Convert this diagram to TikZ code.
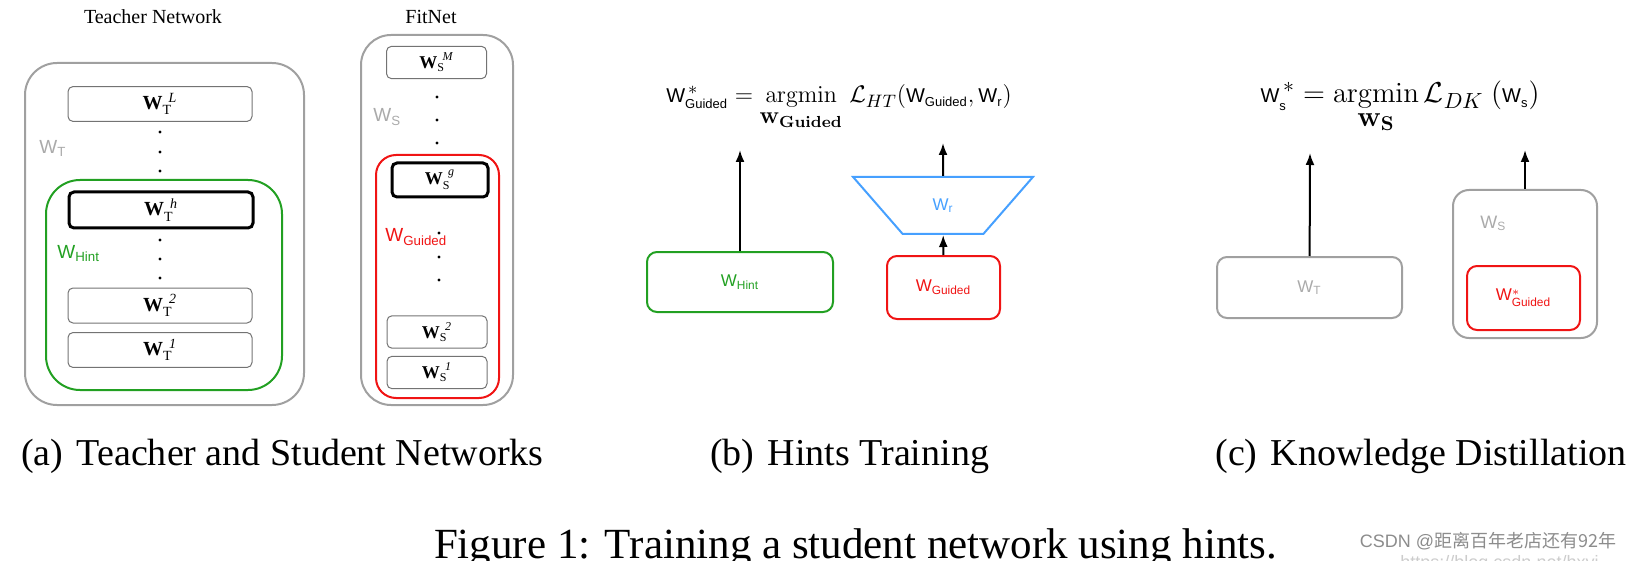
\documentclass[tikz,border=0pt]{standalone}
\usepackage{amsmath,amssymb}
\usepackage[no-math]{fontspec}
\setmainfont{Liberation Serif}
\setsansfont{Liberation Sans}
\newfontfamily\cjkfont{Noto Sans CJK SC}
\usepackage{xcolor}
\usepackage{tikz}
\usetikzlibrary{shapes.geometric}
\usetikzlibrary{positioning}
\usetikzlibrary{arrows.meta}

\definecolor{hintgreen}{RGB}{34,160,34}
\definecolor{guidedred}{RGB}{240,20,20}
\definecolor{regblue}{RGB}{70,160,255}
\definecolor{netgray}{RGB}{160,160,160}
\definecolor{labelgray}{RGB}{170,170,170}

% layer label W_T^L
\newcommand{\layerW}[2]{\textbf{W}$_{\text{#1}}^{\hspace{0.3em}\text{\itshape #2}}$}
% sans weight labels
\newcommand{\sfW}[1]{\textsf{W}\textsubscript{\sffamily #1}}
\newcommand{\sfWstar}[1]{\textsf{W}$^{*}_{\text{\sffamily #1}}$}
% sans W inside the equations
\newcommand{\eqW}[1]{\text{\fontsize{10}{11}\sffamily W}_{\text{\fontsize{6.5}{7}\sffamily #1}}}

\begin{document}
\begin{tikzpicture}[x=0.5pt,y=-0.5pt,
	netbox/.style={draw=netgray,line width=1pt,rounded corners=16pt},
	layer/.style={draw=black!55,line width=0.5pt,rounded corners=2.5pt,font=\fontsize{10}{12}\selectfont},
	hidden/.style={layer,draw=black,line width=1.5pt},
	weight/.style={line width=1pt,rounded corners=5pt},
	wlabel/.style={anchor=base west,inner sep=0pt,font=\fontsize{9.5}{11}\selectfont},
	caption/.style={anchor=base,font=\fontsize{19}{22}\selectfont},
	up/.style={-{Latex[length=6pt,width=4.5pt]},line width=1pt}]

	\useasboundingbox (0,0) rectangle (1642,561);

	% teacher network
	\node[font=\fontsize{10}{12}\selectfont,anchor=base] (tname) at (153,24) {Teacher Network};
	\node[netbox,minimum width=139.5pt,minimum height=171pt] (teacher) at (164.5,234) {};
	\node[draw=hintgreen,line width=1pt,rounded corners=17pt,minimum width=118pt,minimum height=105pt] (hint) at (164,285) {};
	\node[layer,minimum width=92pt,minimum height=17pt] (tL) at (160,104) {\layerW{T}{L}};
	\node[hidden,minimum width=92pt,minimum height=18pt] (th) at (161,210) {\layerW{T}{h}};
	\node[layer,minimum width=92pt,minimum height=17.5pt] (t2) at (160,305.5) {\layerW{T}{2}};
	\node[layer,minimum width=92pt,minimum height=17pt] (t1) at (160,350) {\layerW{T}{1}};
	\foreach \y in {132,152,171,240,259,278}
		\fill (160,\y) circle (0.8pt);
	\node[wlabel,text=labelgray] (wt) at (39,154) {\sfW{T}};
	\node[wlabel,text=hintgreen] (whint) at (57,258) {\sfW{Hint}};

	% student network (FitNet)
	\node[font=\fontsize{10}{12}\selectfont,anchor=base] (sname) at (431,24) {FitNet};
	\node[netbox,rounded corners=15pt,minimum width=76pt,minimum height=185pt] (student) at (437,220) {};
	\node[draw=guidedred,line width=1pt,rounded corners=10pt,minimum width=61.5pt,minimum height=121.5pt] (guided) at (437.5,276.5) {};
	\node[layer,font=\fontsize{9}{11}\selectfont,minimum width=50pt,minimum height=15.5pt] (sM) at (436.5,62.5) {\layerW{S}{M}};
	\node[hidden,font=\fontsize{9}{11}\selectfont,minimum width=48pt,minimum height=17pt] (sg) at (440,180) {\layerW{S}{g}};
	\node[layer,font=\fontsize{9}{11}\selectfont,minimum width=50pt,minimum height=16pt] (s2) at (437,332) {\layerW{S}{2}};
	\node[layer,font=\fontsize{9}{11}\selectfont,minimum width=50pt,minimum height=15.5pt] (s1) at (437,372.5) {\layerW{S}{1}};
	\foreach \y in {97,120,143}
		\fill (437,\y) circle (0.8pt);
	\foreach \y in {233,257,280}
		\fill (439,\y) circle (0.8pt);
	\node[wlabel,text=labelgray] (ws) at (373,122) {\sfW{S}};
	\node[wlabel,text=guidedred] (wguided) at (385,242) {\sfW{Guided}};

	% hints training
	\node[anchor=base,font=\fontsize{13.2}{15}\selectfont] (eqht) at (839,103)
		{$\eqW{Guided}^{\,*}= \underset{\text{\fontsize{12}{13}\selectfont$\mathbf{w}_{\mathbf{Guided}}$}}{\mathrm{argmin}}\ \mathcal{L}_{HT}(\eqW{Guided},\eqW{r})$};
	\node[draw=hintgreen,weight,text=hintgreen,font=\fontsize{8.5}{10}\selectfont,minimum width=93pt,minimum height=30pt] (bhint) at (740,282) {\sfW{Hint}};
	\node[draw=guidedred,weight,text=guidedred,font=\fontsize{8.5}{10}\selectfont,minimum width=56.5pt,minimum height=31.5pt] (bguided) at (943.5,287.5) {\sfW{Guided}};
	\node[trapezium,draw=regblue,line width=1pt,shape border rotate=180,trapezium stretches=true,
		trapezium left angle=52,trapezium right angle=52,minimum width=90pt,minimum height=28.5pt,
		text=regblue,font=\fontsize{8.5}{10}\selectfont] (reg) at (943,205.5) {\sfW{r}};
	\coordinate (bhintout) at (740,150);
	\coordinate (regout) at (943,143);
	\draw[up] (bhint) -- (bhintout);
	\draw[up] (bguided) -- (reg);
	\draw[up] (reg) -- (regout);

	% knowledge distillation
	\node[anchor=base,font=\fontsize{15}{17}\selectfont] (eqkd) at (1400,103)
		{$\eqW{s}^{\,*}= \underset{\text{\fontsize{14}{15}\selectfont$\mathbf{w}_{\mathbf{S}}$}}{\mathrm{argmin}}\,\mathcal{L}_{DK}\ (\eqW{s})$};
	\node[draw=netgray,weight,text=labelgray,font=\fontsize{8.5}{10}\selectfont,minimum width=92.5pt,minimum height=30.5pt] (cteacher) at (1309.5,287.5) {\sfW{T}};
	\node[netbox,rounded corners=8pt,minimum width=72pt,minimum height=74pt] (cstudent) at (1525,264) {};
	\node[wlabel,text=labelgray,font=\fontsize{9}{11}\selectfont] (cws) at (1480,228) {\sfW{S}};
	\node[draw=guidedred,weight,text=guidedred,font=\fontsize{8.5}{10}\selectfont,minimum width=56.5pt,minimum height=32pt] (cguided) at (1523.5,298) {\sfWstar{Guided}};
	\coordinate (cteacherout) at (1310,153);
	\coordinate (cstudentout) at (1525,150);
	\draw[up] (cteacher) -- (cteacherout);
	\draw[up] (cstudent) -- (cstudentout);

	% captions
	\node[caption] (capa) at (282.5,465) {(a)\hspace{0.35em}Teacher and Student Networks};
	\node[caption] (capb) at (849.5,465) {(b)\hspace{0.35em}Hints Training};
	\node[caption] (capc) at (1421,465) {(c)\hspace{0.35em}Knowledge Distillation};
	\node[caption,font=\fontsize{21.5}{24}\selectfont] (fig) at (855.5,558) {Figure 1: Training a student network using hints.};

	% watermark
	\node[anchor=base,text=black!45,font=\fontsize{9}{11}\sffamily] (mark) at (1488,547) {CSDN @{\cjkfont 距离百年老店还有92年}};
	\node[anchor=north west,inner sep=0pt,text=black!20,font=\fontsize{9}{11}\sffamily] (url) at (1400,555) {https://blog.csdn.net/hxyi};
\end{tikzpicture}
\end{document}
